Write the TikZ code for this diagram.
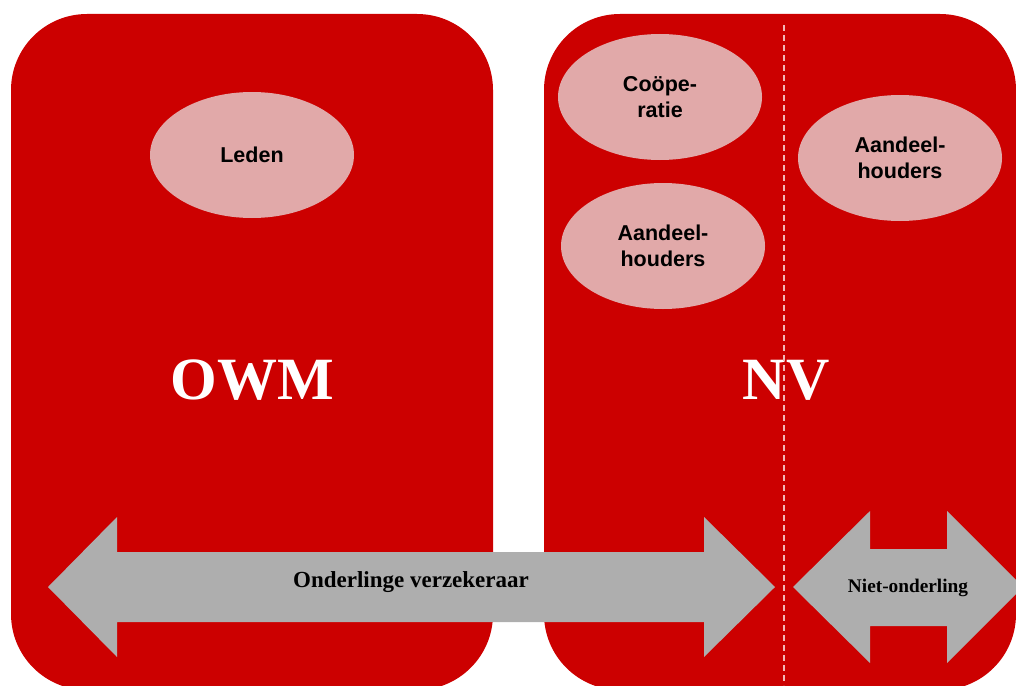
\documentclass[tikz,border=0pt]{standalone}
\usepackage{fontspec}
\setmainfont{Liberation Serif}
\newfontfamily\arialfont{Liberation Sans}
\usetikzlibrary{shapes.geometric}
\definecolor{boxred}{HTML}{CC0000}
\definecolor{ellpink}{HTML}{E1A9A9}
\definecolor{arrgrey}{HTML}{AEAEAE}
\definecolor{dashpink}{HTML}{F2B8B8}
\tikzset{
  panel/.style={fill=boxred, draw=none, rounded corners=76pt},
  bubble/.style={ellipse, fill=ellpink, draw=none, minimum width=204pt, minimum height=126pt, inner sep=0pt,
    align=center, font=\arialfont\bfseries\fontsize{21.5}{26}\selectfont},
  bigtitle/.style={text=white, font=\bfseries\fontsize{60}{60}\selectfont},
  arrowshape/.style={fill=arrgrey, draw=none},
  arrowlabel/.style={font=\bfseries\fontsize{23}{24}\selectfont, inner sep=0pt},
  divider/.style={draw=dashpink, line width=1.3pt, dash pattern=on 6pt off 4pt}
}
\begin{document}
\begin{tikzpicture}[x=1pt,y=-1pt]
\useasboundingbox (0,0) rectangle (1016,685);
% panels
\path[panel] (11,14) rectangle (493,690);
\path[panel] (544,14) rectangle (1016,690);
% ellipses
\node[bubble] (leden) at (252,155) {Leden};
\node[bubble] (coop) at (660,97) {Coöpe-\\ratie};
\node[bubble] (aandl) at (663,246) {Aandeel-\\houders};
\node[bubble] (aandr) at (900,158) {Aandeel-\\houders};
% titles
\node[bigtitle] (owm) at (252,380) {OWM};
\node[bigtitle] (nv) at (786,380) {NV};
% double arrows
\path[arrowshape] (48,587) -- (117,517) -- (117,552) -- (704,552) -- (704,517) -- (775,587)
  -- (704,657) -- (704,622) -- (117,622) -- (117,657) -- cycle;
\path[arrowshape] (793,587) -- (870,511) -- (870,549) -- (947,549) -- (947,511) -- (1023,587)
  -- (947,663) -- (947,626) -- (870,626) -- (870,663) -- cycle;
\node[arrowlabel] (onder) at (411,582) {Onderlinge verzekeraar};
\node[arrowlabel, font=\bfseries\fontsize{19.3}{20}\selectfont] (niet) at (908,588) {Niet-onderling};
% divider
\coordinate (dtop) at (784,25);
\coordinate (dbot) at (784,685);
\draw[divider] (dtop) -- (dbot);
\end{tikzpicture}
\end{document}
